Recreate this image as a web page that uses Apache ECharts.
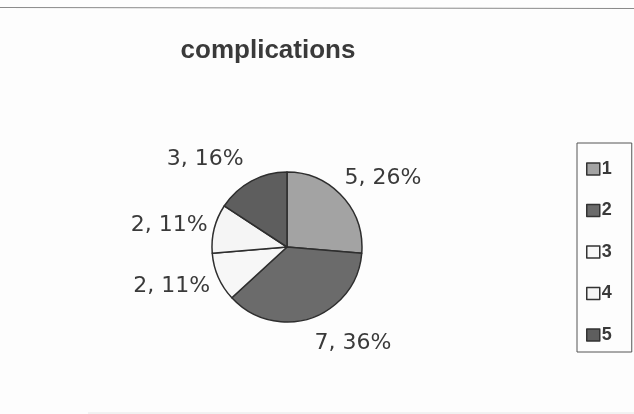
<!DOCTYPE html>
<html>
<head>
<meta charset="utf-8">
<script src="https://cdn.jsdelivr.net/npm/echarts@6/dist/echarts.min.js"></script>
<style>
html,body{margin:0;padding:0;background:#fdfdfd;}
#c{width:634px;height:414px;}
</style>
</head>
<body>
<div id="c"></div>
<script>
var categories = ['1', '2', '3', '4', '5'];
var values = [5, 7, 2, 2, 3];
var pctLabels = ['26%', '36%', '11%', '11%', '16%'];
var colors = ['#a3a3a3', '#6b6b6b', '#f7f7f7', '#f5f5f5', '#5e5e5e'];
// small label nudges (Excel-style label placement)
var labelNudge = [[-10, -11], [-5, 16], [6, 5], [8, -1], [2, -13]];

var chart = echarts.init(document.getElementById('c'), null, {renderer: 'canvas'});
var data = categories.map(function (c, i) {
  return {name: c, value: values[i], itemStyle: {color: colors[i]}};
});
chart.setOption({
  backgroundColor: '#fdfdfd',
  animation: false,
  title: {
    text: 'complications',
    left: 263, top: 33, textAlign: 'center',
    textStyle: {fontFamily: 'Liberation Sans, Arial', fontWeight: 'bold', fontSize: 26, color: '#3a3a3a'}
  },
  legend: {
    orient: 'vertical',
    left: 577, top: 143,
    padding: [17, 20, 8, 9],
    itemWidth: 13, itemHeight: 12, itemGap: 23.5,
    borderColor: '#555', borderWidth: 1,
    icon: 'rect',
    itemStyle: {borderColor: '#333', borderWidth: 1.5},
    textStyle: {fontFamily: 'Liberation Sans, Arial', fontWeight: 'bold', fontSize: 18, color: '#3a3a3a', padding: [0,0,0,-3]},
    data: categories
  },
  graphic: [
    {type: 'line', shape: {x1: 0, y1: 7.5, x2: 634, y2: 8.5}, style: {stroke: '#8a8a8a', lineWidth: 1.2}},
    {type: 'line', shape: {x1: 88, y1: 413, x2: 634, y2: 413}, style: {stroke: '#e6e6e6', lineWidth: 1}}
  ],
  series: [{
    type: 'pie',
    center: [287, 247],
    radius: 75,
    startAngle: 90,
    clockwise: true,
    avoidLabelOverlap: false,
    itemStyle: {borderColor: '#2e2e2e', borderWidth: 1.5},
    label: {
      show: true, position: 'outside',
      fontFamily: 'DejaVu Sans', fontSize: 22, color: '#3a3a3a',
      formatter: function (p) { return p.value + ', ' + pctLabels[p.dataIndex]; }
    },
    labelLine: {show: false, length: 10, length2: 0},
    labelLayout: function (p) {
      var n = labelNudge[p.dataIndex];
      return {dx: n[0], dy: n[1]};
    },
    data: data
  }]
});
</script>
</body>
</html>
